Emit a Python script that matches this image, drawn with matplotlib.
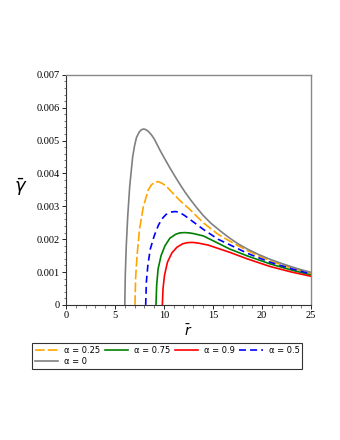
import numpy as np
import matplotlib
matplotlib.use("Agg")
import matplotlib.pyplot as plt
from matplotlib.ticker import MultipleLocator

plt.rcParams['lines.scale_dashes'] = False

# curves (r, gamma)
r_a0 = [6.0, 6.05, 6.15, 6.3, 6.5, 6.8, 7.0, 7.2, 7.5, 7.7, 7.9, 8.1, 8.4, 8.7,
        9.0, 9.6, 10.1, 10.6, 11.1, 11.6, 12.1, 12.65, 13.3, 14.0, 14.8, 15.7,
        16.7, 17.6, 18.5, 19.6, 20.8, 21.9, 23.0, 24.0, 25.0]
g_a0 = [0, 0.0009, 0.0018, 0.0027, 0.0036, 0.0045, 0.00485, 0.0051, 0.00527,
        0.00533, 0.00535, 0.00534, 0.00528, 0.00518, 0.00505, 0.0047, 0.00443,
        0.00417, 0.00392, 0.00368, 0.00345, 0.00322, 0.00297, 0.00272, 0.00248,
        0.00226, 0.00203, 0.00185, 0.0017, 0.00154, 0.00139, 0.00127, 0.00116,
        0.00107, 0.00099]

r_a25 = [7.04, 7.1, 7.25, 7.5, 7.9, 8.1, 8.4, 8.7, 9.0, 9.4, 9.8, 10.2, 10.8,
         11.6, 12.65, 14.0, 15.5, 16.7, 18.5, 20.8, 23.0, 25.0]
g_a25 = [0, 0.0008, 0.0015, 0.0023, 0.0030, 0.0032, 0.0035, 0.00365, 0.00372,
         0.00375, 0.0037, 0.00362, 0.00343, 0.00318, 0.0029, 0.0025, 0.00215,
         0.00194, 0.00165, 0.00134, 0.00112, 0.00096]

r_a5 = [8.13, 8.2, 8.35, 8.6, 9.0, 9.42, 9.8, 10.2, 10.8, 11.2, 11.6, 12.1,
        12.65, 14.0, 15.5, 16.7, 18.5, 20.8, 23.0, 25.0]
g_a5 = [0, 0.0007, 0.0012, 0.0017, 0.0021, 0.00242, 0.00262, 0.00275, 0.00283,
        0.00284, 0.00281, 0.00272, 0.0026, 0.0023, 0.0020, 0.00183, 0.00157,
        0.0013, 0.0011, 0.00094]

r_a75 = [9.18, 9.25, 9.4, 9.7, 10.1, 10.6, 11.2, 11.6, 12.1, 12.6, 13.0, 14.0,
         15.5, 16.7, 18.5, 20.8, 23.0, 25.0]
g_a75 = [0, 0.0006, 0.0011, 0.0015, 0.0018, 0.00203, 0.00215, 0.00219, 0.0022,
         0.00219, 0.00217, 0.0021, 0.00188, 0.0017, 0.00149, 0.00125, 0.00106,
         0.00091]

r_a9 = [9.83, 9.9, 10.05, 10.35, 10.8, 11.3, 11.9, 12.3, 12.65, 13.0, 13.5, 14.5,
        15.5, 16.7, 18.5, 20.8, 23.0, 25.0]
g_a9 = [0, 0.0005, 0.0009, 0.0013, 0.00158, 0.00175, 0.00186, 0.00189, 0.0019,
        0.0019, 0.00188, 0.00182, 0.00172, 0.0016, 0.0014, 0.00117, 0.0010,
        0.00087]

ytick_vals = [0, 0.001, 0.002, 0.003, 0.004, 0.005, 0.006, 0.007]
ytick_labels = ["0", "0.001", "0.002", "0.003", "0.004", "0.005", "0.006", "0.007"]
xtick_vals = [0, 5, 10, 15, 20, 25]

fig = plt.figure(figsize=(3.4, 4.4), dpi=100)
ax = fig.add_axes([0.194, 0.307, 0.721, 0.523])

lw = 1.2
l25, = ax.plot(r_a25, g_a25, color='#FFA500', lw=lw, dashes=(7, 2.2), label='α = 0.25')
l0, = ax.plot(r_a0, g_a0, color='#808080', lw=lw, label='α = 0')
l75, = ax.plot(r_a75, g_a75, color='#008000', lw=lw, label='α = 0.75')
l9, = ax.plot(r_a9, g_a9, color='#FF0000', lw=lw, label='α = 0.9')
l5, = ax.plot(r_a5, g_a5, color='#0000FF', lw=lw, dashes=(5, 3), label='α = 0.5')

ax.set_xlim(0, 25)
ax.set_ylim(0, 0.007)
ax.set_yticks(ytick_vals)
ax.set_yticklabels(ytick_labels)
ax.set_xticks(xtick_vals)
ax.xaxis.set_minor_locator(MultipleLocator(1))
ax.yaxis.set_minor_locator(MultipleLocator(0.0002))
ax.tick_params(which='major', length=3, width=0.6, direction='out', pad=1.5,
               labelsize=7.5, colors='black')
ax.tick_params(which='minor', length=1.8, width=0.5, direction='out', color='#444444')
for lab in ax.get_xticklabels() + ax.get_yticklabels():
    lab.set_family('Liberation Serif')

for side in ['top', 'right']:
    ax.spines[side].set_color('#888888')
    ax.spines[side].set_linewidth(1.0)
for side in ['left', 'bottom']:
    ax.spines[side].set_color('#333333')
    ax.spines[side].set_linewidth(0.8)

ax.set_xlabel(r'$\bar{r}$', fontsize=10, labelpad=2)
fig.text(0.06, 0.575, r'$\bar{\gamma}$', fontsize=13, fontweight='bold',
         ha='center', va='center')

leg = fig.legend([l25, l0, l75, l9, l5],
                 ['α = 0.25', 'α = 0', 'α = 0.75', 'α = 0.9', 'α = 0.5'],
                 ncol=4, loc='upper left',
                 bbox_to_anchor=(0.094, 0.221),
                 bbox_transform=fig.transFigure, fontsize=6,
                 handlelength=2.8, handletextpad=0.7, columnspacing=0.55,
                 borderaxespad=0, borderpad=0.35, labelspacing=0.3,
                 frameon=True, fancybox=False)
leg.get_frame().set_edgecolor('black')
leg.get_frame().set_linewidth(0.8)

fig.savefig('out.png', dpi=100)
